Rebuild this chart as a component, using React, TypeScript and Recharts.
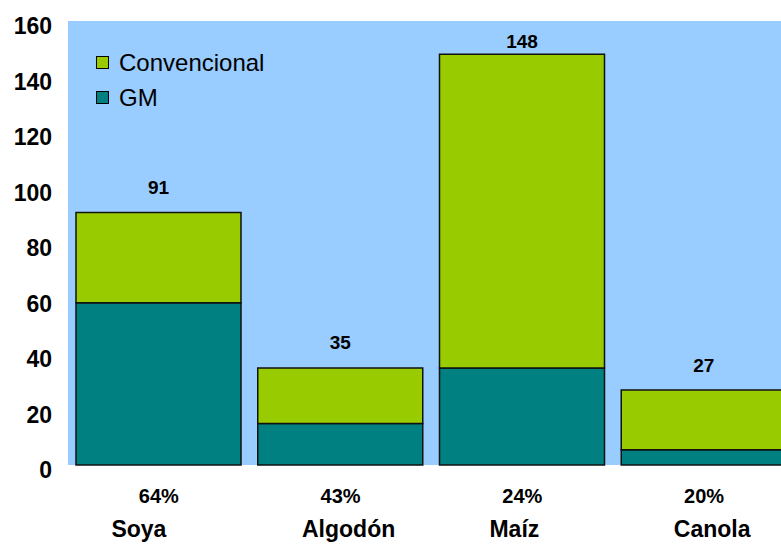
import { BarChart, Bar, XAxis, YAxis, CartesianGrid, LabelList } from 'recharts'

const crops = ['Soya', 'Algodón', 'Maíz', 'Canola']
const gm = [58.5, 15, 35, 5.5]
const convencional = [32.5, 20, 113, 21.5]
const totals = ['91', '35', '148', '27']
const shares = ['64%', '43%', '24%', '20%']
const yTicks = [0, 20, 40, 60, 80, 100, 120, 140, 160]

// small nudges so the crop names sit where the original had them
const nameShift = [-20, 8, -8, 8]

const data = crops.map((c, i) => ({ crop: c, gm: gm[i], conv: convencional[i] }))

const font = 'Liberation Sans, Arial, sans-serif'
const GREEN = '#99CC00'
const TEAL = '#008080'

const YTick = ({ y, payload }: any) => (
  <text x={52} y={y + 5} textAnchor="end" dominantBaseline="central" fontFamily={font} fontSize={23} fontWeight="bold" fill="#000">
    {payload.value}
  </text>
)

const XTick = ({ x, y, payload, index }: any) => (
  <g>
    <text x={x} y={y + 23} textAnchor="middle" dominantBaseline="central" fontFamily={font} fontSize={20} fontWeight="bold" fill="#000">
      {shares[index]}
    </text>
    <text x={x + nameShift[index]} y={y + 56} textAnchor="middle" dominantBaseline="central" fontFamily={font} fontSize={23} fontWeight="bold" fill="#000">
      {payload.value}
    </text>
  </g>
)

const TotalLabel = ({ x, y, width, index }: any) => (
  <text x={x + width / 2} y={Math.max(y - 25, 41)} textAnchor="middle" dominantBaseline="central" fontFamily={font} fontSize={19} fontWeight="bold" fill="#000">
    {totals[index]}
  </text>
)

const LegendBox = () => (
  <div style={{ position: 'absolute', left: 96, top: 45, fontFamily: font, fontSize: 24, color: '#000', lineHeight: '35px' }}>
    {[['Convencional', GREEN], ['GM', TEAL]].map(([name, color]) => (
      <div key={name} style={{ display: 'flex', alignItems: 'center' }}>
        <span style={{ width: 11, height: 11, background: color, border: '1px solid #000', marginRight: 10 }} />
        {name}
      </div>
    ))}
  </div>
)

export default function App() {
  return (
    <div style={{ position: 'absolute', left: 0, top: 0, width: 781, height: 545, overflow: 'hidden', background: '#fff' }}>
      <BarChart width={795} height={545} data={data} margin={{ top: 21, right: 0, bottom: 0, left: 0 }}>
        <CartesianGrid fill="#99CCFF" stroke="none" horizontal={false} vertical={false} />
        <YAxis width={68} domain={[0, 160]} ticks={yTicks} axisLine={false} tickLine={false} tick={<YTick />} interval={0} />
        <XAxis dataKey="crop" height={80} axisLine={false} tickLine={false} tick={<XTick />} interval={0} />
        <Bar dataKey="gm" stackId="a" fill={TEAL} stroke="#111" strokeWidth={1.5} barSize={165} isAnimationActive={false} />
        <Bar dataKey="conv" stackId="a" fill={GREEN} stroke="#111" strokeWidth={1.5} barSize={165} isAnimationActive={false}>
          <LabelList dataKey="conv" content={<TotalLabel />} />
        </Bar>
      </BarChart>
      <LegendBox />
    </div>
  )
}
